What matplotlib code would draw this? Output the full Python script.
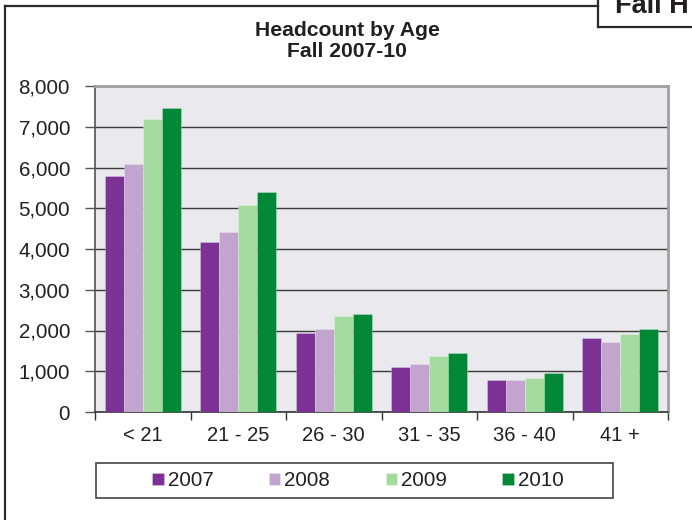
import matplotlib
matplotlib.use("Agg")
import matplotlib.pyplot as plt
import numpy as np
from matplotlib.lines import Line2D
from matplotlib.patches import Rectangle
from matplotlib.ticker import FuncFormatter

plt.rcParams['font.family'] = ['Liberation Sans', 'DejaVu Sans']

# headcount by age group, fall terms
groups = ["< 21", "21 - 25", "26 - 30", "31 - 35", "36 - 40", "41 +"]
years = ["2007", "2008", "2009", "2010"]
hc_2007 = [5780, 4180, 1950, 1100, 790, 1820]
hc_2008 = [6090, 4410, 2040, 1190, 790, 1710]
hc_2009 = [7180, 5070, 2360, 1380, 830, 1920]
hc_2010 = [7450, 5390, 2400, 1450, 960, 2040]
series = [hc_2007, hc_2008, hc_2009, hc_2010]
colors = ["#7b3294", "#c2a5cf", "#a6dba0", "#008837"]

W, H = 692, 520
fig = plt.figure(figsize=(W / 100, H / 100), dpi=100)
txt = "#231f20"

def fx(px):
    return px / W

def fy(py):
    return 1 - py / H

ax = fig.add_axes([fx(95), fy(412), fx(668) - fx(95), fy(86) - fy(412)])
ax.set_facecolor("#eaeaee")

x = np.arange(len(groups))
bw = 0.2
for i, vals in enumerate(series):
    ax.bar(x + (i - 1.5) * bw, vals, bw, color=colors[i], label=years[i],
           edgecolor=(1, 1, 1, 0.35), linewidth=0.5, zorder=3)

ax.set_xlim(-0.5, len(groups) - 0.5)
ax.set_ylim(0, 8000)
ax.set_yticks(np.arange(0, 8001, 1000))
ax.yaxis.set_major_formatter(FuncFormatter(lambda v, p: f"{int(v):,}"))
ax.yaxis.grid(True, color="#3a3a3a", linewidth=1.0, zorder=1)
ax.set_axisbelow(True)

ax.set_xticks(np.arange(-0.5, len(groups)), minor=False)
ax.set_xticklabels([])
ax.set_xticks(x, minor=True)
ax.set_xticklabels(groups, minor=True)
ax.tick_params(axis="x", which="major", length=6, width=1, color="#333333", direction="out")
ax.tick_params(axis="x", which="minor", length=0, pad=10, labelsize=14.5, labelcolor=txt)
ax.tick_params(axis="y", length=7, width=1, color="#555555", direction="out",
               pad=11, labelsize=14.8, labelcolor=txt)

for s in ["top", "right"]:
    ax.spines[s].set_color("#a0a0a0")
    ax.spines[s].set_linewidth(2)
ax.spines["left"].set_color("#555555")
ax.spines["bottom"].set_color("#333333")
ax.spines["left"].set_linewidth(1.2)
ax.spines["bottom"].set_linewidth(1.2)

# title
fig.text(fx(347), fy(36.5), "Headcount by Age", ha="center", va="baseline",
         fontsize=15.2, fontweight="bold", color=txt)
fig.text(fx(347), fy(57), "Fall 2007-10", ha="center", va="baseline",
         fontsize=15.2, fontweight="bold", color=txt)

# legend with its own box
leg = fig.legend(loc="center", bbox_to_anchor=(fx(358), fy(480.5)), ncol=4,
                 frameon=False, fontsize=14.8, handlelength=0.55, handleheight=0.55,
                 handletextpad=0.2, columnspacing=2.7)
for t in leg.get_texts():
    t.set_color(txt)
fig.patches.append(Rectangle((fx(96), fy(498)), fx(613) - fx(96), fy(463) - fy(498),
                             transform=fig.transFigure, fill=False,
                             edgecolor="#444444", linewidth=1.2))

# outer frame and cut-off header box
fc = "#2b2b2b"
fig.lines.append(Line2D([fx(5), fx(5)], [fy(520), fy(6)], transform=fig.transFigure,
                        color=fc, linewidth=1.6))
fig.lines.append(Line2D([fx(5), fx(598)], [fy(6), fy(6)], transform=fig.transFigure,
                        color=fc, linewidth=1.6))
fig.lines.append(Line2D([fx(598), fx(598)], [fy(0), fy(27)], transform=fig.transFigure,
                        color=fc, linewidth=1.6))
fig.lines.append(Line2D([fx(598), fx(692)], [fy(27), fy(27)], transform=fig.transFigure,
                        color=fc, linewidth=1.6))
fig.text(fx(615), fy(13), "Fall H", ha="left", va="baseline",
         fontsize=19.5, fontweight="bold", color=txt)

fig.savefig("out.png", dpi=100)
